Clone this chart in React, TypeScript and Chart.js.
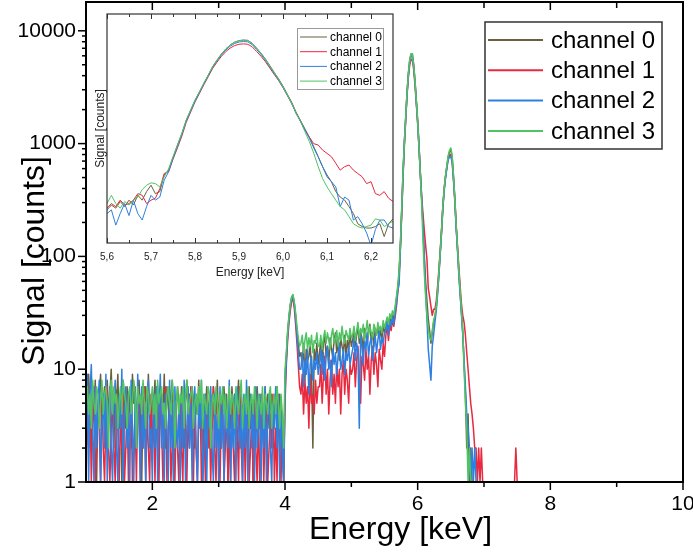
import React, { useEffect, useRef } from 'react';
import { Chart, registerables } from 'chart.js';
Chart.register(...registerables);

const FONT = "'Liberation Sans', Arial, Helvetica, sans-serif";

const CHANNEL_NAMES = ['channel 0', 'channel 1', 'channel 2', 'channel 3'];
const CHANNEL_COLORS = ['#6a5f3e', '#e8293f', '#2f7fe0', '#50c463'];
const DRAW_ORDER = [3, 2, 1, 0];

// energy sampling of the spectra (keV)
const MAIN_E_START = 1.0;
const MAIN_E_STEP = 0.02;
const INSET_E_START = 5.6;
const INSET_E_STEP = 0.01;

// main axes
const MAIN_X_MIN = 1;
const MAIN_X_MAX = 10;
const MAIN_Y_MIN = 1;
const MAIN_Y_MAX = 18000;
const MAIN_X_MAJOR = [2, 4, 6, 8, 10];
const MAIN_X_LABELS = ['2', '4', '6', '8', '10'];
const MAIN_X_MINOR = [3, 5, 7, 9];
const MAIN_Y_MAJOR = [1, 10, 100, 1000, 10000];
const MAIN_Y_LABELS = ['1', '10', '100', '1000', '10000'];
const MAIN_X_TITLE = 'Energy [keV]';
const MAIN_Y_TITLE = 'Signal [counts]';

// inset axes
const INSET_X_MIN = 5.6;
const INSET_X_MAX = 6.25;
const INSET_Y_MIN = 14;
const INSET_Y_MAX = 14000;
const INSET_X_MAJOR = [5.6, 5.7, 5.8, 5.9, 6.0, 6.1, 6.2];
const INSET_X_LABELS = ['5,6', '5,7', '5,8', '5,9', '6,0', '6,1', '6,2'];
const INSET_X_MINOR = [5.65, 5.75, 5.85, 5.95, 6.05, 6.15];

// ---------- main spectrum, 1.00 - 3.98 keV (counts) ----------
const CH0_LOW = [
  7,3,9,5,2,6,4,8,1,5, 6,9,3,5,7,2,8,4,6,10, 4,2,7,5,9,3,6,1,8,5, 3,7,4,6,2,9,5,7,3,6,
  8,4,1,6,5,7,3,9,4,2, 6,5,8,3,7,2,5,6,4,9, 2,7,5,3,6,8,1,5,4,7, 5,3,7,6,2,5,8,4,6,3,
  7,5,2,6,4,8,3,5,1,6, 4,7,5,2,6,3,7,5,4,8, 3,6,2,5,7,4,6,1,5,3, 7,4,6,3,5,8,2,6,4,5,
  2,6,4,7,3,5,1,6,5,7, 4,3,6,5,2,7,4,6,3,5, 6,2,5,4,7,3,6,5,2,1,
];
const CH1_LOW = [
  1,4,2,6,1,3,7,1,2,5, 3,1,6,2,1,4,7,2,1,3, 5,2,1,6,3,1,4,2,7,1, 2,5,1,3,6,1,2,4,1,5,
  6,1,3,2,7,1,4,2,1,6, 2,4,1,5,2,1,6,3,1,2, 7,1,3,5,1,2,6,1,4,2, 1,5,2,1,6,3,1,4,2,7,
  3,1,5,2,1,4,6,1,2,3, 1,6,2,4,1,3,7,2,1,5, 2,1,4,6,1,2,5,1,3,1, 6,2,1,4,3,1,7,2,1,5,
  1,3,6,1,2,4,1,5,2,1, 4,1,2,6,1,3,5,1,2,4, 2,6,1,3,1,5,2,1,4,1,
];
const CH2_LOW = [
  2,9,1,6,11,3,1,7,2,5, 8,1,3,6,2,9,1,4,7,2, 1,5,8,2,1,6,3,10,1,4, 7,2,5,1,8,3,1,6,2,9,
  3,1,7,2,5,1,6,8,2,3, 1,6,2,7,1,4,9,2,5,1, 6,3,1,8,2,5,1,7,3,2, 5,1,6,2,8,1,3,7,2,5,
  1,4,7,2,1,6,3,8,1,2, 6,1,5,3,7,2,1,6,2,4, 1,7,2,5,1,6,3,2,8,1, 4,2,6,1,7,3,2,5,1,6,
  2,8,1,3,6,2,5,1,7,2, 3,6,1,5,2,7,1,4,6,2, 1,5,3,7,2,6,1,4,2,1,
];
const CH3_LOW = [
  5,7,4,6,3,8,5,4,7,6, 3,5,8,4,6,7,5,2,6,8, 4,7,5,6,3,5,7,4,8,6, 5,3,6,7,4,5,8,6,2,7,
  5,6,4,8,5,3,7,6,4,5, 7,4,6,3,8,5,6,7,4,5, 3,6,7,5,4,8,6,2,5,7, 4,6,5,7,3,6,8,4,5,6,
  7,3,5,6,4,7,5,8,3,6, 5,4,7,6,2,5,6,4,7,5, 3,6,5,7,4,6,3,5,7,4, 6,5,3,7,5,4,6,8,3,5,
  6,4,7,3,5,6,4,7,5,3, 6,5,4,7,3,6,5,4,6,7, 3,5,6,4,7,5,3,6,4,2,
];

// ---------- main spectrum, 4.00 - 7.00 keV (counts) ----------
const CH0_HIGH = [
  8,13,21,29,37,43,45,38,30,22,17,13,
  14,11,17,8,15,12,13,16,10,2,15,12,17,11,
  14,18,12,17,20,13,16,11,19,15,13,18,21,14,17,12,19,16,14,20,13,18,15,21,16,
  18,22,16,20,24,17,21,19,14,23,20,17,22,25,18,21,16,23,20,24,19,22,18,25,21,
  24,28,23,30,26,31,28,34,42,52,
  66,126,265,560,1040,1720,2850,4180,5480,6230,6230,5000,3600,2420,1600,980,560,335,
  189,100,60,40,28,22,17,21,26,
  29,35,49,70,108,168,276,395,510,625,760,845,880,
  760,510,325,188,118,73,48,32,21,11,6,2,4,1,2,1,1,null,null,null,null,null,null,null,null,
];
const CH1_HIGH = [
  5,11,18,26,33,40,42,35,25,17,11,7,
  6,9,4,8,5,7,3,9,5,6,4,8,5,7,
  7,11,5,9,13,6,10,4,8,12,6,9,5,11,7,10,4,9,12,6,10,8,5,11,9,
  10,14,7,12,16,9,5,13,11,8,15,10,13,6,12,16,9,14,11,7,15,12,10,17,13,
  20,24,18,25,22,27,24,29,36,48,
  72,120,240,520,980,1640,2680,3880,4990,5580,5560,4520,3290,2240,1500,925,540,340,
  240,170,125,95,52,44,36,30,34,
  34,40,54,76,112,172,280,398,512,620,740,790,800,
  700,490,320,190,125,82,55,38,30,26,20,14,10,7,5,4,3,2,2,1,2,1,2,1,null,
];
const CH1_TAIL = [
  null,null,null,null,null,null,null,null,null,null,null,null,null,null,null,null,null,null,null,null,null,null,
  1,2,1,
];
const CH2_HIGH = [
  6,12,20,28,36,42,44,38,28,20,14,10,
  10,14,7,12,9,15,6,11,13,8,12,10,14,9,
  11,15,9,14,8,13,16,10,12,7,15,11,14,9,13,17,10,12,15,9,14,12,16,11,13,
  15,19,12,17,14,3,20,16,11,18,15,21,13,17,19,12,16,20,14,18,22,15,19,17,21,
  22,26,20,27,24,29,25,31,38,50,
  56,120,255,540,1010,1680,2780,4050,5280,5950,5950,4800,3460,2330,1530,935,540,325,
  189,95,48,28,15,11,8,16,20,
  26,33,46,68,104,162,268,382,495,600,720,760,770,
  680,470,310,180,115,70,46,31,20,12,7,4,3,2,1,2,1,2,1,null,null,null,null,null,null,
];
const CH3_HIGH = [
  10,14,22,30,38,44,46,40,32,24,19,16,
  17,20,14,18,21,15,19,16,20,14,18,17,21,16,
  16,20,15,19,22,17,21,18,15,20,23,17,19,22,16,21,18,24,19,17,22,20,18,23,19,
  20,24,18,22,26,19,23,21,25,18,22,27,20,24,21,19,25,23,20,26,22,24,21,27,23,
  26,29,25,31,28,33,30,36,44,55,
  76,131,269,572,1045,1730,2860,4190,5490,6250,6250,4970,3570,2380,1560,946,543,297,
  140,72,44,30,23,19,18,22,27,
  30,36,50,72,110,170,280,400,520,640,780,870,915,
  780,520,330,190,120,75,50,33,22,10,5,3,1,2,1,1,null,null,null,null,null,null,null,null,null,
];

// ---------- inset, 5.60 - 6.25 keV ----------
const CH0_INSET = [
  38,44,40,49,42,51,44,59,51,66,80,62,66,109,126,
  185,265,378,565,765,1035,1330,1720,2210,2850,3480,4180,4880,5510,5990,6280,6380,6320,5780,5000,
  4300,3600,2950,2410,1980,1590,1240,970,720,560,
  435,340,255,189,140,109,89,66,56,51,42,34,25,23,22,22,23,25,17,25,29,
];
const CH1_INSET = [
  40,46,42,51,44,46,51,62,59,46,51,54,72,114,120,
  175,245,350,530,725,985,1270,1650,2110,2700,3280,3900,4500,5020,5400,5620,5680,5620,5200,4520,
  3920,3320,2740,2260,1880,1520,1200,940,700,550,
  420,340,280,269,231,209,189,155,126,140,147,126,114,103,84,89,62,59,66,54,49,
];
const CH2_INSET = [
  34,38,24,34,46,32,51,34,28,42,59,51,56,93,120,
  180,258,368,550,745,1010,1300,1690,2170,2790,3400,4060,4710,5300,5750,6020,6100,6050,5560,4800,
  4130,3460,2840,2320,1910,1530,1195,935,695,545,
  425,330,245,189,140,103,89,76,42,56,51,28,31,25,19,13,21,28,28,23,22,
];
const CH3_INSET = [
  46,59,46,40,49,44,51,56,70,80,86,84,76,103,131,
  189,269,382,572,773,1045,1340,1730,2220,2860,3490,4190,4870,5490,5960,6250,6350,6300,5750,4970,
  4270,3570,2920,2380,1950,1560,1215,946,699,543,
  401,297,209,140,98,76,62,51,42,38,31,25,23,22,23,24,29,28,23,25,27,
];

const MAIN_VALUES = [
  CH0_LOW.concat(CH0_HIGH as any),
  CH1_LOW.concat(CH1_HIGH as any, CH1_TAIL as any),
  CH2_LOW.concat(CH2_HIGH as any),
  CH3_LOW.concat(CH3_HIGH as any),
];
const INSET_VALUES = [CH0_INSET, CH1_INSET, CH2_INSET, CH3_INSET];

function toPoints(values: (number | null)[], start: number, step: number) {
  return values.map((v, i) => ({ x: Math.round((start + i * step) * 1000) / 1000, y: v }));
}

function line(ctx: CanvasRenderingContext2D, x1: number, y1: number, x2: number, y2: number) {
  ctx.beginPath();
  ctx.moveTo(x1, y1);
  ctx.lineTo(x2, y2);
  ctx.stroke();
}

const mainDecor = {
  id: 'mainDecor',
  afterDraw(chart: any) {
    const { ctx, chartArea: a } = chart;
    const xs = chart.scales.x;
    const ys = chart.scales.y;
    ctx.save();
    ctx.strokeStyle = '#000';
    ctx.lineWidth = 1.5;
    for (const v of MAIN_X_MAJOR) {
      const px = xs.getPixelForValue(v);
      line(ctx, px, a.bottom, px, a.bottom + 8);
      if (v < MAIN_X_MAX) line(ctx, px, a.top, px, a.top + 8);
    }
    for (const v of MAIN_X_MINOR) {
      const px = xs.getPixelForValue(v);
      line(ctx, px, a.bottom, px, a.bottom + 5);
      line(ctx, px, a.top, px, a.top + 6);
    }
    for (const d of MAIN_Y_MAJOR) {
      const py = ys.getPixelForValue(d);
      line(ctx, a.left - 8, py, a.left, py);
      for (let m = 2; m <= 9; m++) {
        const v = d * m;
        if (v > MAIN_Y_MAX) break;
        const pm = ys.getPixelForValue(v);
        line(ctx, a.left - 4, pm, a.left, pm);
      }
    }
    ctx.lineWidth = 2;
    ctx.strokeRect(a.left, a.top, a.right - a.left, a.bottom - a.top);

    // axis titles
    ctx.fillStyle = '#000';
    ctx.font = `32px ${FONT}`;
    ctx.textAlign = 'center';
    ctx.textBaseline = 'middle';
    ctx.fillText(MAIN_X_TITLE, (a.left + a.right) / 2 + 16, a.bottom + 48);
    ctx.save();
    ctx.translate(35, (a.top + a.bottom) / 2 + 19);
    ctx.rotate(-Math.PI / 2);
    ctx.fillText(MAIN_Y_TITLE, 0, 0);
    ctx.restore();

    // legend
    const w = 177, h = 127;
    const lx = a.right - 21 - w;
    const ly = a.top + 20;
    ctx.fillStyle = '#fff';
    ctx.fillRect(lx, ly, w, h);
    ctx.strokeStyle = '#333';
    ctx.lineWidth = 1.5;
    ctx.strokeRect(lx, ly, w, h);
    ctx.font = `24px ${FONT}`;
    ctx.textBaseline = 'middle';
    ctx.textAlign = 'left';
    CHANNEL_NAMES.forEach((name, k) => {
      const ry = ly + 18 + k * 30.3;
      ctx.strokeStyle = CHANNEL_COLORS[k];
      ctx.lineWidth = 2;
      line(ctx, lx + 3, ry, lx + 58, ry);
      ctx.fillStyle = '#000';
      ctx.fillText(name, lx + 66, ry + 1);
    });
    ctx.restore();
  },
};

const insetDecor = {
  id: 'insetDecor',
  beforeDraw(chart: any) {
    const { ctx, chartArea: a } = chart;
    ctx.save();
    ctx.fillStyle = '#fff';
    ctx.fillRect(a.left, a.top, a.right - a.left, a.bottom - a.top);
    ctx.restore();
  },
  afterDraw(chart: any) {
    const { ctx, chartArea: a } = chart;
    const xs = chart.scales.x;
    ctx.save();
    ctx.strokeStyle = '#333';
    ctx.lineWidth = 1;
    for (const v of INSET_X_MAJOR) {
      const px = Math.round(xs.getPixelForValue(v)) + 0.5;
      line(ctx, px, a.bottom, px, a.bottom - 5);
      line(ctx, px, a.top, px, a.top + 5);
    }
    for (const v of INSET_X_MINOR) {
      const px = Math.round(xs.getPixelForValue(v)) + 0.5;
      line(ctx, px, a.bottom, px, a.bottom - 3);
      line(ctx, px, a.top, px, a.top + 3);
    }
    ctx.lineWidth = 1.2;
    ctx.strokeRect(a.left, a.top, a.right - a.left, a.bottom - a.top);

    const w = 86, h = 61;
    const lx = a.right - 10 - w;
    const ly = a.top + 14;
    ctx.fillStyle = '#fff';
    ctx.fillRect(lx, ly, w, h);
    ctx.strokeStyle = '#999';
    ctx.lineWidth = 1;
    ctx.strokeRect(lx + 0.5, ly + 0.5, w, h);
    ctx.font = `12px ${FONT}`;
    ctx.textBaseline = 'middle';
    ctx.textAlign = 'left';
    CHANNEL_NAMES.forEach((name, k) => {
      const ry = ly + 9 + k * 14.7;
      ctx.strokeStyle = CHANNEL_COLORS[k];
      ctx.lineWidth = 1;
      line(ctx, lx + 3, ry, lx + 30, ry);
      ctx.fillStyle = '#000';
      ctx.fillText(name, lx + 33, ry + 0.5);
    });
    ctx.restore();
  },
};

export default function App() {
  const mainRef = useRef<HTMLCanvasElement>(null);
  const insetRef = useRef<HTMLCanvasElement>(null);

  useEffect(() => {
    if (!mainRef.current || !insetRef.current) return;

    const main = new Chart(mainRef.current, {
      type: 'line',
      data: {
        datasets: MAIN_VALUES.map((vals, c) => ({
          label: CHANNEL_NAMES[c],
          data: toPoints(vals as any, MAIN_E_START, MAIN_E_STEP),
          borderColor: CHANNEL_COLORS[c],
          backgroundColor: CHANNEL_COLORS[c],
          borderWidth: 1.5,
          pointRadius: 0,
          tension: 0,
          fill: false,
          spanGaps: false,
          borderJoinStyle: 'round',
          order: DRAW_ORDER[c],
        })) as any,
      },
      options: {
        animation: false,
        responsive: false,
        devicePixelRatio: 1,
        events: [],
        layout: { padding: { top: 2, right: 10, left: 0, bottom: 0 } },
        plugins: { legend: { display: false }, tooltip: { enabled: false } },
        scales: {
          x: {
            type: 'linear',
            min: MAIN_X_MIN,
            max: MAIN_X_MAX,
            grid: { display: false, drawTicks: false },
            border: { display: false },
            afterBuildTicks: (s: any) => {
              s.ticks = MAIN_X_MAJOR.map((v) => ({ value: v }));
            },
            afterFit: (s: any) => {
              s.height = 70;
              s.paddingLeft = 0;
              s.paddingRight = 0;
            },
            ticks: {
              autoSkip: false,
              maxRotation: 0,
              padding: 10,
              color: '#000',
              font: { family: FONT, size: 21 },
              callback: (v: any) => {
                const i = MAIN_X_MAJOR.indexOf(Number(v));
                return i >= 0 ? MAIN_X_LABELS[i] : '';
              },
            },
            title: { display: false },
          },
          y: {
            type: 'logarithmic',
            min: MAIN_Y_MIN,
            max: MAIN_Y_MAX,
            grid: { display: false, drawTicks: false },
            border: { display: false },
            afterBuildTicks: (s: any) => {
              s.ticks = MAIN_Y_MAJOR.map((v) => ({ value: v }));
            },
            afterFit: (s: any) => {
              s.width = 86;
              s.paddingTop = 0;
              s.paddingBottom = 0;
            },
            ticks: {
              autoSkip: false,
              padding: 10,
              color: '#000',
              font: { family: FONT, size: 21 },
              callback: (v: any) => {
                const i = MAIN_Y_MAJOR.indexOf(Number(v));
                return i >= 0 ? MAIN_Y_LABELS[i] : '';
              },
            },
            title: { display: false },
          },
        },
      } as any,
      plugins: [mainDecor],
    });

    const inset = new Chart(insetRef.current, {
      type: 'line',
      data: {
        datasets: INSET_VALUES.map((vals, c) => ({
          label: CHANNEL_NAMES[c],
          data: toPoints(vals, INSET_E_START, INSET_E_STEP),
          borderColor: CHANNEL_COLORS[c],
          backgroundColor: CHANNEL_COLORS[c],
          borderWidth: 1,
          pointRadius: 0,
          tension: 0,
          fill: false,
          borderJoinStyle: 'round',
          order: DRAW_ORDER[c],
        })) as any,
      },
      options: {
        animation: false,
        responsive: false,
        devicePixelRatio: 1,
        events: [],
        layout: { padding: { top: 10, right: 7, left: 0, bottom: 0 } },
        plugins: { legend: { display: false }, tooltip: { enabled: false } },
        scales: {
          x: {
            type: 'linear',
            min: INSET_X_MIN,
            max: INSET_X_MAX,
            grid: { display: false, drawTicks: false },
            border: { display: false },
            afterBuildTicks: (s: any) => {
              s.ticks = INSET_X_MAJOR.map((v) => ({ value: v }));
            },
            afterFit: (s: any) => {
              s.height = 51;
              s.paddingLeft = 0;
              s.paddingRight = 0;
            },
            ticks: {
              autoSkip: false,
              maxRotation: 0,
              padding: 8,
              color: '#222',
              font: { family: FONT, size: 10 },
              callback: (v: any) => {
                const i = INSET_X_MAJOR.findIndex((t) => Math.abs(t - Number(v)) < 1e-6);
                return i >= 0 ? INSET_X_LABELS[i] : '';
              },
            },
            title: {
              display: true,
              text: 'Energy [keV]',
              color: '#222',
              font: { family: FONT, size: 12 },
              padding: { top: 0, bottom: 14 },
            },
          },
          y: {
            type: 'logarithmic',
            min: INSET_Y_MIN,
            max: INSET_Y_MAX,
            grid: { display: false, drawTicks: false },
            border: { display: false },
            afterFit: (s: any) => {
              s.width = 19;
              s.paddingTop = 0;
              s.paddingBottom = 0;
            },
            ticks: { display: false },
            title: {
              display: true,
              text: 'Signal [counts]',
              color: '#222',
              font: { family: FONT, size: 12 },
              padding: { top: 5, bottom: 0 },
            },
          },
        },
      } as any,
      plugins: [insetDecor],
    });

    return () => {
      main.destroy();
      inset.destroy();
    };
  }, []);

  return (
    <div style={{ position: 'absolute', left: 0, top: 0, width: 693, height: 552, background: '#fff' }}>
      <canvas ref={mainRef} width={693} height={552} style={{ position: 'absolute', left: 0, top: 0, width: 693, height: 552 }} />
      <canvas ref={insetRef} width={312} height={290} style={{ position: 'absolute', left: 88, top: 4, width: 312, height: 290 }} />
    </div>
  );
}
